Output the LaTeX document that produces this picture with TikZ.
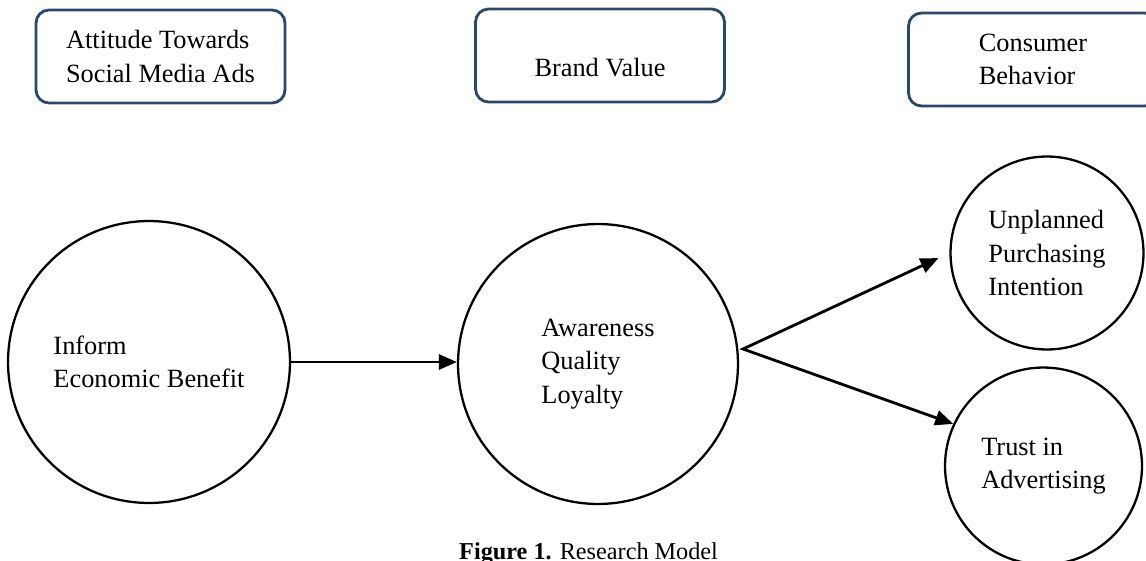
\documentclass[tikz,border=0pt]{standalone}
\usepackage{fontspec}
\setmainfont{Liberation Serif}
\usetikzlibrary{positioning,arrows.meta,calc}

\definecolor{boxblue}{RGB}{44,72,104}
\tikzset{
  catbox/.style={draw=boxblue, line width=1.6pt, rounded corners=0.26cm,
    minimum width=4.98cm, minimum height=1.86cm, align=left, inner sep=0pt},
  factor/.style={draw, circle, line width=1.3pt, align=left, inner sep=0pt},
  tip/.style={Triangle[length=0.36cm,width=0.3cm]},
  link/.style={-{Triangle[length=0.36cm,width=0.3cm]}, line width=1.6pt}
}

\begin{document}
\begin{tikzpicture}[x=0.02cm,y=-0.02cm,font=\fontsize{15}{19}\selectfont]
\clip (0,0) rectangle (1146,561);

% categories
\node[catbox] (attitude) at (160.5,56.5) {Attitude Towards\\Social Media Ads};
\node[catbox, text height=0.86cm, text depth=0pt] (brand) at (600,55.5) {Brand Value};
\node[catbox] (consumer) at (1033,59.5) {Consumer\\Behavior};

% factors
\node[factor, minimum size=5.64cm] (inform) at (149,362) {Inform\\Economic Benefit};
\node[factor, minimum size=5.6cm] (value) at (598,364) {Awareness\\Quality\\Loyalty};
\node[factor, minimum size=3.86cm] (unplanned) at (1047,253) {Unplanned\\Purchasing\\Intention};
\node[factor, minimum size=3.94cm] (trust) at (1043.5,466) {Trust in\\Advertising};

\coordinate (fork) at (743,349);
\draw[link] (inform.east) -- (inform.east -| value.west);
\draw[{Triangle[length=0.36cm,width=0.3cm]}-{Triangle[length=0.36cm,width=0.3cm]}, line width=1.6pt, shorten <=0.24cm]
  (unplanned.west) -- (fork) -- (trust.155);

\node[anchor=base west, font=\fontsize{13.8}{16}\selectfont] (caption) at (453,559) {\textbf{Figure 1.} Research Model};

\end{tikzpicture}
\end{document}
